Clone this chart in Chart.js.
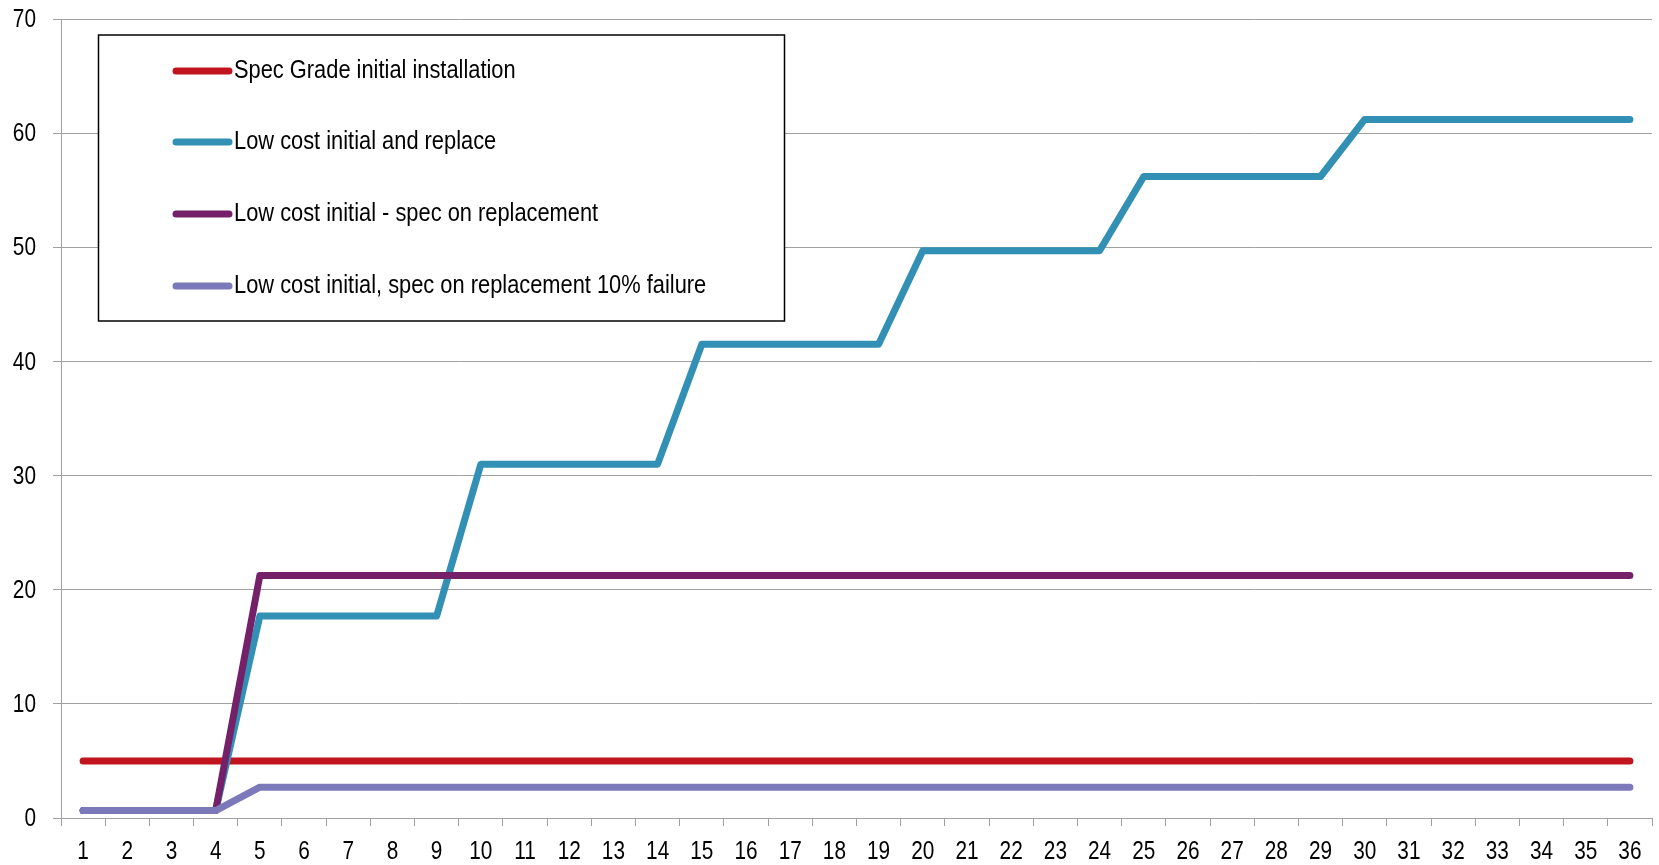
<!DOCTYPE html>
<html>
<head>
<meta charset="utf-8">
<script src="https://cdn.jsdelivr.net/npm/chart.js@4/dist/chart.umd.min.js"></script>
<style>
  html, body { margin: 0; padding: 0; background: #ffffff; }
  #wrap { width: 1659px; height: 865px; position: relative; }
</style>
</head>
<body>
<div id="wrap"><canvas id="chart"></canvas></div>
<script>
// Months 1..36 along the x axis
const months = ['1','2','3','4','5','6','7','8','9','10','11','12','13','14','15','16','17','18',
                '19','20','21','22','23','24','25','26','27','28','29','30','31','32','33','34','35','36'];

// Cumulative cost per scenario
const specGrade = [5,5,5,5,5,5,5,5,5,5,5,5,5,5,5,5,5,5,5,5,5,5,5,5,5,5,5,5,5,5,5,5,5,5,5,5];
const lowCostReplace = [0.65,0.65,0.65,0.65,
  17.7,17.7,17.7,17.7,17.7,
  31.0,31.0,31.0,31.0,31.0,
  41.5,41.5,41.5,41.5,41.5,
  49.7,49.7,49.7,49.7,49.7,
  56.2,56.2,56.2,56.2,56.2,
  61.2,61.2,61.2,61.2,61.2,61.2,61.2];
const lowCostSpecReplace = [0.65,0.65,0.65,0.65,
  21.25,21.25,21.25,21.25,21.25,21.25,21.25,21.25,21.25,21.25,21.25,21.25,
  21.25,21.25,21.25,21.25,21.25,21.25,21.25,21.25,21.25,21.25,21.25,21.25,
  21.25,21.25,21.25,21.25,21.25,21.25,21.25,21.25];
const lowCostSpecFailure = [0.65,0.65,0.65,0.65,
  2.7,2.7,2.7,2.7,2.7,2.7,2.7,2.7,2.7,2.7,2.7,2.7,
  2.7,2.7,2.7,2.7,2.7,2.7,2.7,2.7,2.7,2.7,2.7,2.7,
  2.7,2.7,2.7,2.7,2.7,2.7,2.7,2.7];

const seriesNames = [
  'Spec Grade initial installation',
  'Low cost initial and replace',
  'Low cost initial - spec on replacement',
  'Low cost initial, spec on replacement 10% failure'
];

const yTicks = [0, 10, 20, 30, 40, 50, 60, 70];

const FONT = "'Liberation Sans', Arial, sans-serif";
const GRID = '#a0a0a0';

function lineSet(label, data, color, order) {
  return {
    label, data, order,
    borderColor: color,
    backgroundColor: color,
    borderWidth: 7,
    borderCapStyle: 'round',
    borderJoinStyle: 'round',
    pointRadius: 0,
    tension: 0,
    fill: false
  };
}

// Draws text squeezed horizontally to mimic a narrow face
function narrowText(ctx, text, x, y, size, squeeze, align) {
  ctx.save();
  ctx.font = size + 'px ' + FONT;
  ctx.textBaseline = 'middle';
  ctx.textAlign = align;
  ctx.fillStyle = '#000000';
  ctx.translate(x, y);
  ctx.scale(squeeze, 1);
  ctx.fillText(text, 0, 0);
  ctx.restore();
}

// Axis labels, placed with the chart's own scales
const narrowTicks = {
  id: 'narrowTicks',
  afterDraw(chart) {
    const ctx = chart.ctx;
    const xs = chart.scales.x, ys = chart.scales.y;
    xs.ticks.forEach((t, i) => {
      narrowText(ctx, String(xs.getLabelForValue(t.value)), xs.getPixelForTick(i), ys.bottom + 34, 26, 0.8, 'center');
    });
    ys.ticks.forEach((t, i) => {
      narrowText(ctx, String(t.value), ys.right - 25, ys.getPixelForTick(i) + 1, 26, 0.8, 'right');
    });
  }
};

// Boxed legend drawn inside the plot area, upper left
const boxedLegend = {
  id: 'boxedLegend',
  afterDraw(chart) {
    const ctx = chart.ctx;
    const bx = 98.5, by = 35, bw = 686, bh = 286;
    ctx.save();
    ctx.fillStyle = '#ffffff';
    ctx.fillRect(bx, by, bw, bh);
    ctx.strokeStyle = '#000000';
    ctx.lineWidth = 1.5;
    ctx.strokeRect(bx, by, bw, bh);
    const rows = [71, 142, 214, 286];
    chart.data.datasets.forEach((ds, i) => {
      const y = rows[i];
      ctx.strokeStyle = ds.borderColor;
      ctx.lineWidth = 7;
      ctx.lineCap = 'round';
      ctx.beginPath();
      ctx.moveTo(176, y);
      ctx.lineTo(229, y);
      ctx.stroke();
      narrowText(ctx, ds.label, 234, y, 26, 0.84, 'left');
    });
    ctx.restore();
  }
};

new Chart(document.getElementById('chart'), {
  type: 'line',
  data: {
    labels: months,
    datasets: [
      lineSet(seriesNames[0], specGrade, '#c0141e', 4),
      lineSet(seriesNames[1], lowCostReplace, '#3190b4', 3),
      lineSet(seriesNames[2], lowCostSpecReplace, '#74216a', 2),
      lineSet(seriesNames[3], lowCostSpecFailure, '#7c79ba', 1)
    ]
  },
  options: {
    responsive: true,
    maintainAspectRatio: false,
    animation: false,
    layout: { padding: { top: 19, right: 7, left: 0, bottom: 0 } },
    plugins: {
      legend: { display: false },
      tooltip: { enabled: false }
    },
    scales: {
      x: {
        offset: true,
        grid: {
          offset: true,
          drawOnChartArea: false,
          drawTicks: true,
          tickLength: 8,
          color: GRID
        },
        border: { color: GRID, width: 1 },
        ticks: { display: false, autoSkip: false, maxRotation: 0 },
        afterFit(scale) { scale.height = 47; }
      },
      y: {
        min: yTicks[0],
        max: yTicks[yTicks.length - 1],
        afterBuildTicks(scale) { scale.ticks = yTicks.map(v => ({ value: v })); },
        grid: {
          color: GRID,
          tickLength: 8,
          drawTicks: true
        },
        border: { color: GRID, width: 1 },
        ticks: { display: false },
        afterFit(scale) { scale.width = 61; }
      }
    }
  },
  plugins: [narrowTicks, boxedLegend]
});
</script>
</body>
</html>
